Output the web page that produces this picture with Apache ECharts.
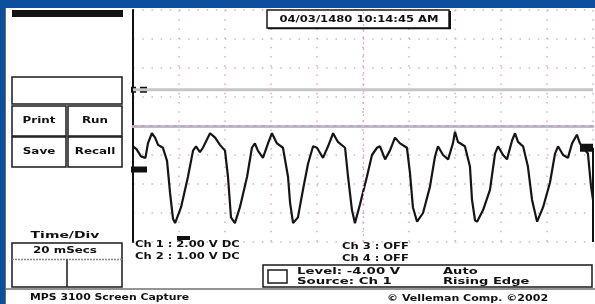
<!DOCTYPE html>
<html>
<head>
<meta charset="utf-8">
<script src="https://cdn.jsdelivr.net/npm/echarts@6/dist/echarts.min.js"></script>
<style>
html, body { margin: 0; padding: 0; background: #fff; }
#scope { width: 595px; height: 304px; }
</style>
</head>
<body>
<div id="scope"></div>
<script>
/* scope settings (time in ms, level in V) */
var timeMin = 0, timeMax = 200, timeStep = 20;
var voltMin = -8, voltMax = 8, voltStep = 2;

/* channel 1 trace: [ms, V] */
var ch1Trace = [
    [0, -1.4], [1.5, -1.6], [3.5, -2.1], [5.4, -2.2], [6.5, -1.2], [8.2, -0.5], [9.6, -0.8],
    [10.9, -1.3], [13.0, -1.5], [14.8, -2.4], [16.1, -4.6], [17.4, -6.4],
    [18.3, -6.7], [20.9, -5.6], [23.9, -3.5], [26.1, -1.7], [27.4, -1.4], [29.1, -1.8], [30.4, -1.5],
    [33.5, -0.5], [35.7, -0.8], [37.8, -1.3], [40.0, -1.7], [41.3, -3.5], [42.6, -6.3],
    [44.3, -6.7], [46.5, -5.6], [49.6, -3.5], [51.7, -1.5], [53.0, -1.2], [54.3, -1.7], [56.5, -2.2],
    [58.7, -1.2], [60.4, -0.5], [62.6, -1.2], [65.2, -1.5], [67.4, -3.5], [68.3, -5.3],
    [69.6, -6.7], [71.7, -6.3], [73.9, -4.4], [76.1, -2.6], [78.3, -1.4], [80.0, -1.5], [82.6, -2.2],
    [84.8, -1.4], [87.0, -0.5], [89.1, -1.1], [92.2, -1.5], [93.5, -3.5], [95.2, -5.8],
    [96.5, -6.7], [98.7, -5.4], [101.7, -3.5], [103.9, -2.0], [106.1, -1.5], [107.4, -1.4], [109.6, -2.3],
    [111.7, -1.7], [113.9, -0.8], [116.1, -1.2], [119.1, -1.5], [120.4, -3.2], [121.7, -5.6],
    [123.5, -6.6], [126.1, -6.0], [129.1, -4.2], [131.3, -2.1], [132.6, -1.4], [134.8, -2.0], [137.0, -2.3],
    [139.1, -1.2], [140.0, -0.4], [141.3, -1.1], [144.3, -1.4], [146.5, -2.8], [147.4, -5.1], [148.7, -6.5],
    [149.6, -6.6], [152.2, -5.8], [155.2, -4.4], [157.4, -1.9], [158.7, -1.4], [160.9, -2.0], [162.6, -2.3],
    [164.8, -1.0], [166.1, -0.5], [167.4, -1.1], [169.6, -1.4], [171.7, -2.8], [173.5, -5.1],
    [175.7, -6.6], [178.3, -5.6], [181.3, -3.9], [183.5, -1.9], [184.8, -1.4], [187.0, -2.0], [189.1, -2.2],
    [190.9, -1.2], [193.0, -0.6], [194.3, -1.2], [195.7, -1.5], [197.8, -1.9], [199.1, -4.1], [200, -5.1]
];

/* channel 2 is a flat trace */
var ch2Trace = [[0, 2.5], [200, 2.5]];

/* markers on the screen edges */
var ch2Ground = 2.5;
var ch1Ground = -3.0;
var trigLevelMark = -1.5;
var trigTimeMark = 20;

/* texts */
var dateText = '04/03/1480 10:14:45 AM';
var buttonLabels = ['Print', 'Run', 'Save', 'Recall'];
var chInfo = ['Ch 1 : 2.00 V DC', 'Ch 2 : 1.00 V DC', 'Ch 3 : OFF', 'Ch 4 : OFF'];
var trigInfo = ['Level: -4.00 V', 'Source: Ch 1', 'Auto', 'Rising Edge'];
var timeDivLabel = 'Time/Div';
var timeDivValue = '20 mSecs';
var footLeft = 'MPS 3100 Screen Capture';
var footRight = '\u00a9 Velleman Comp. \u00a92002';

var FONT = '"DejaVu Sans", sans-serif';
var gridDot = '#dcaad8';

// the capture uses a wide bitmap font, so texts get stretched sideways
function txt(x, y, s, size, sx, align) {
    return {
        type: 'text', x: x, y: y, scaleX: sx || 1, silent: true,
        style: {
            text: s, fill: '#111', font: 'bold ' + size + 'px ' + FONT,
            align: align || 'left', verticalAlign: 'middle'
        }
    };
}
function box(x, y, w, h, fill) {
    return {
        type: 'rect', silent: true,
        shape: { x: x, y: y, width: w, height: h },
        style: { fill: fill || 'none', stroke: '#1a1a1a', lineWidth: 1.5 }
    };
}
function seg(x1, y1, x2, y2, color, w, dash) {
    return {
        type: 'line', silent: true,
        shape: { x1: x1, y1: y1, x2: x2, y2: y2 },
        style: { stroke: color, lineWidth: w, lineDash: dash || null }
    };
}

var option = {
    backgroundColor: '#fff',
    animation: false,
    grid: { left: 133, top: 10, width: 460, height: 232 },
    xAxis: {
        type: 'value', min: timeMin, max: timeMax, interval: timeStep,
        axisLine: { show: true, lineStyle: { color: '#bdbdbd', width: 3 } },
        axisTick: { show: false }, axisLabel: { show: false },
        splitLine: { show: true, lineStyle: { color: gridDot, width: 1.5, type: [1.5, 7.7] } }
    },
    yAxis: {
        type: 'value', min: voltMin, max: voltMax, interval: voltStep,
        axisLine: { show: true, onZero: false, lineStyle: { color: '#111', width: 2 } },
        axisTick: { show: false }, axisLabel: { show: false },
        splitLine: { show: true, lineStyle: { color: gridDot, width: 1.5, type: [1.5, 7.7] } }
    },
    series: [
        {
            name: 'Ch 2', type: 'line', data: ch2Trace, symbol: 'none', silent: true,
            lineStyle: { color: '#c6c6c6', width: 3 }
        },
        {
            name: 'Ch 1', type: 'line', data: ch1Trace, symbol: 'none', silent: true,
            lineStyle: { color: '#151515', width: 2.2 },
            markLine: {
                silent: true, symbol: 'none', label: { show: false },
                lineStyle: { color: '#e0a8d2', width: 1.2, type: [2, 4] },
                data: [{ xAxis: 100 }]
            }
        },
        {
            name: 'centre', type: 'line', data: [], silent: true, z: 1,
            markLine: {
                silent: true, symbol: 'none', label: { show: false },
                lineStyle: { color: '#d993c4', width: 1.5, type: [4, 4] },
                data: [{ yAxis: 0 }]
            }
        },
        {
            name: 'centre2', type: 'line', data: [], silent: true, z: 1,
            markLine: {
                silent: true, symbol: 'none', label: { show: false },
                lineStyle: { color: '#9cc8e6', width: 1.5, type: [3, 5], dashOffset: 4 },
                data: [{ yAxis: 0 }]
            }
        }
    ]
};

var chart = echarts.init(document.getElementById('scope'), null, { renderer: 'canvas' });
chart.setOption(option);

var yC2 = chart.convertToPixel({ gridIndex: 0 }, [0, ch2Ground])[1];
var yC1 = chart.convertToPixel({ gridIndex: 0 }, [0, ch1Ground])[1];
var yTr = chart.convertToPixel({ gridIndex: 0 }, [0, trigLevelMark])[1];
var xTr = chart.convertToPixel({ gridIndex: 0 }, [trigTimeMark, 0])[0];
var pBot = chart.convertToPixel({ gridIndex: 0 }, [timeMax, voltMin]);

var g = [
    /* blue frame */
    { type: 'rect', silent: true, shape: { x: 0, y: 0, width: 595, height: 8 }, style: { fill: '#0b4f9e' } },
    { type: 'rect', silent: true, shape: { x: 0, y: 0, width: 5, height: 304 }, style: { fill: '#0b4f9e' } },
    seg(5.5, 8, 5.5, 304, '#6b6b6b', 1),
    /* title bar */
    { type: 'rect', silent: true, shape: { x: 12, y: 10, width: 111, height: 7 }, style: { fill: '#141414' } },
    /* left panel */
    box(12, 77, 110, 27),
    box(12, 106, 54, 30), box(68, 106, 54, 30),
    box(12, 137, 54, 30), box(68, 137, 54, 30),
    txt(39, 121, buttonLabels[0], 8.5, 1.4, 'center'), txt(95, 121, buttonLabels[1], 8.5, 1.4, 'center'),
    txt(39, 152, buttonLabels[2], 8.5, 1.4, 'center'), txt(95, 152, buttonLabels[3], 8.5, 1.4, 'center'),
    txt(65, 236, timeDivLabel, 9, 1.55, 'center'),
    box(12, 243, 110, 44),
    seg(12, 259.5, 122, 259.5, '#8a8a8a', 1.5, [2, 1]),
    seg(67, 259.5, 67, 287, '#1a1a1a', 1.5),
    txt(65, 251, timeDivValue, 8.5, 1.4, 'center'),
    /* date box */
    box(267, 10, 182, 18, '#fff'),
    seg(450, 11, 450, 29, '#111', 2), seg(268, 28.5, 451, 28.5, '#111', 1.5),
    txt(359, 19.5, dateText, 9.5, 1.22, 'center'),
    /* markers */
    { type: 'rect', silent: true, shape: { x: 131, y: yC2 - 3, width: 5, height: 6 }, style: { fill: '#111' } },
    { type: 'rect', silent: true, shape: { x: 140, y: yC2 - 3, width: 7, height: 6 }, style: { fill: '#111' } },
    { type: 'rect', silent: true, shape: { x: 131, y: yC1 - 3, width: 16, height: 6 }, style: { fill: '#111' } },
    { type: 'rect', silent: true, shape: { x: 580, y: yTr - 4, width: 13, height: 8 }, style: { fill: '#111' } },
    { type: 'rect', silent: true, shape: { x: xTr - 2, y: pBot[1] - 6, width: 13, height: 4 }, style: { fill: '#111' } },
    seg(pBot[0], yTr, pBot[0], pBot[1], '#111', 2),
    /* channel info */
    txt(135, 245, chInfo[0], 9, 1.28), txt(135, 257, chInfo[1], 9, 1.28),
    txt(342, 247, chInfo[2], 9, 1.28), txt(342, 259, chInfo[3], 9, 1.28),
    /* trigger box */
    box(263, 265, 329, 22),
    box(268, 270, 19, 13),
    txt(297, 271.5, trigInfo[0], 9, 1.48), txt(297, 281.5, trigInfo[1], 9, 1.48),
    txt(443, 271.5, trigInfo[2], 9, 1.45), txt(443, 281.5, trigInfo[3], 9, 1.45),
    /* footer */
    seg(5, 289, 595, 289, '#707070', 1.5),
    txt(30, 297.5, footLeft, 8.5, 1.28), txt(387, 298.5, footRight, 8.5, 1.3)
];

chart.setOption({ graphic: g });
</script>
</body>
</html>
